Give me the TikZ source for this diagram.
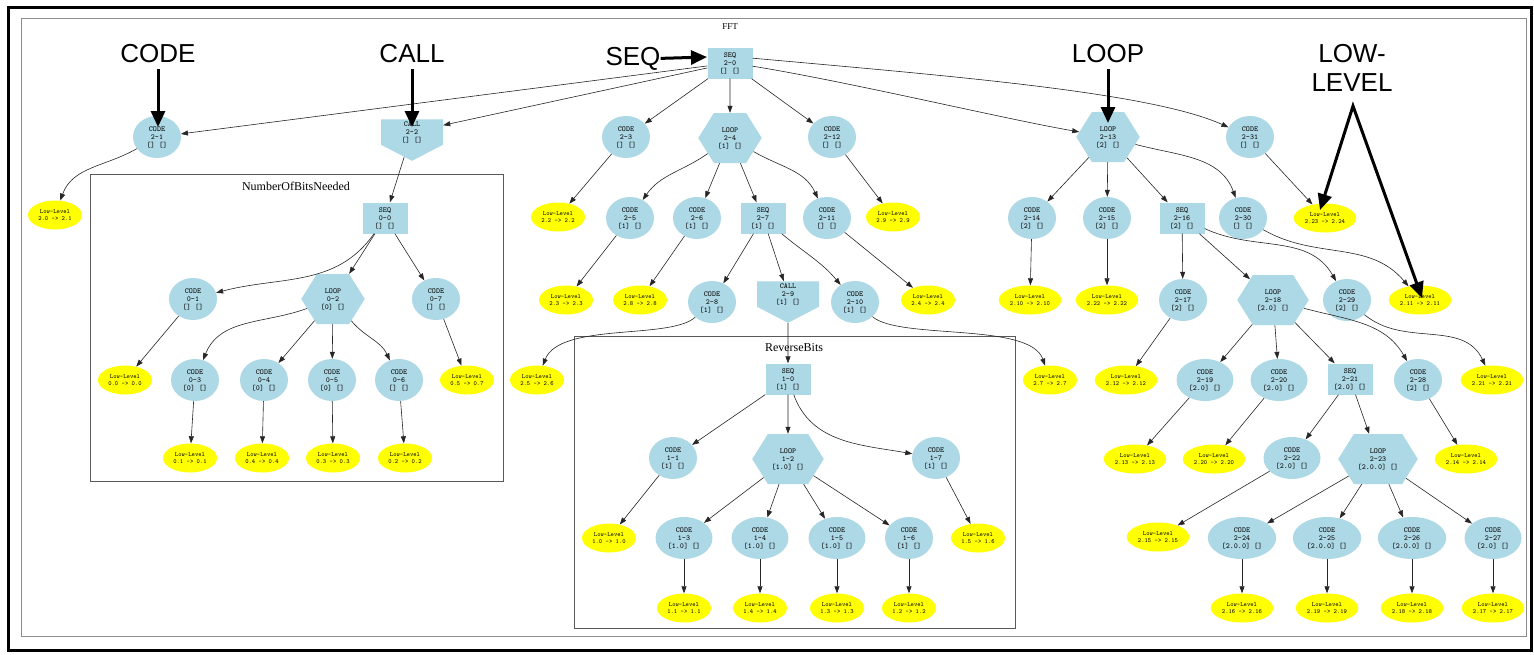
\documentclass[tikz,border=0pt]{standalone}
\usepackage{fontspec}
\setmainfont{Liberation Serif}
\newfontfamily\annfont{Liberation Sans}
\usetikzlibrary{arrows.meta,shapes.geometric,shapes.symbols,calc}
\definecolor{lb}{HTML}{ADD8E6}
\definecolor{yl}{HTML}{FFFF00}
\newcommand{\ntxt}[3]{#1\\#2\\{}#3}
\newcommand{\ltxt}[1]{Low-Level\\{}#1}
\tikzset{
 gfont/.style={font=\fontsize{7.6}{8}\ttfamily},
 codenode/.style={ellipse, fill=lb, inner sep=4pt, minimum width=48pt, minimum height=42pt, align=center, gfont},
 seqnode/.style={rectangle, fill=lb, inner sep=2pt, minimum width=45pt, minimum height=31pt, align=center, gfont},
 loopnode/.style={signal, signal to=east and west, signal pointer angle=116, fill=lb, inner xsep=4pt, inner ysep=2pt, minimum height=50pt, align=center, gfont},
 callnode/.style={signal, signal to=south, signal from=nowhere, signal pointer angle=125, fill=lb, inner sep=2pt, minimum width=62pt, minimum height=31pt, align=center, gfont},
 lownode/.style={ellipse, fill=yl, inner sep=2pt, minimum width=54pt, minimum height=29pt, align=center, font=\fontsize{6.3}{6.7}\ttfamily},
 gedge/.style={-{Triangle[length=7pt,width=5pt]}, line width=0.6pt, draw=black!85},
 annarrow/.style={-{Triangle[length=16pt,width=14pt]}, line width=3pt},
 ann/.style={font=\fontsize{26}{29.5}\annfont, inner sep=0pt, outer ysep=7pt, align=center},
 cluster/.style={draw=black!65, line width=0.8pt},
 fffframe/.style={draw=black!45, line width=1pt},
 ctitle/.style={font=\fontsize{12}{13}\selectfont, inner sep=0pt},
}
\begin{document}
\begin{tikzpicture}[x=1pt,y=-1pt]
\useasboundingbox (0,0) rectangle (1534,654);
\fill[white] (0,0) rectangle (1534,654);
\draw[line width=3pt] (8,7.5) rectangle (1531.5,650.5);
\draw[fffframe] (21,18) rectangle (1526,636);
\node[ctitle, font=\fontsize{9}{10}\selectfont] (tfft) at (730,27) {FFT};
\draw[cluster] (90,174) rectangle (503,481);
\node[ctitle] (tnob) at (296,186) {NumberOfBitsNeeded};
\draw[cluster] (574,336) rectangle (1015,628);
\node[ctitle] (trev) at (794,348) {ReverseBits};

% ---- FFT level 1
\node[seqnode] (a0) at (730,63) {\ntxt{SEQ}{2-0}{[] []}};
\node[codenode] (a1) at (157,137) {\ntxt{CODE}{2-1}{[] []}};
\node[callnode] (a2) at (412,132) {\ntxt{CALL}{2-2}{[] []}};
\node[codenode] (a3) at (626,137) {\ntxt{CODE}{2-3}{[] []}};
\node[loopnode] (a4) at (730,138) {\ntxt{LOOP}{2-4}{[1] []}};
\node[codenode] (a12) at (832,137) {\ntxt{CODE}{2-12}{[] []}};
\node[loopnode] (a13) at (1108,137) {\ntxt{LOOP}{2-13}{[2] []}};
\node[codenode] (a31) at (1250,137) {\ntxt{CODE}{2-31}{[] []}};
% ---- row 2
\node[lownode] (ya1) at (55,215) {\ltxt{2.0 -> 2.1}};
\node[seqnode] (b0) at (385,218) {\ntxt{SEQ}{0-0}{[] []}};
\node[lownode] (ya3) at (558,217) {\ltxt{2.2 -> 2.2}};
\node[codenode] (a5) at (630,218) {\ntxt{CODE}{2-5}{[1] []}};
\node[codenode] (a6) at (697,218) {\ntxt{CODE}{2-6}{[1] []}};
\node[seqnode] (a7) at (763,218) {\ntxt{SEQ}{2-7}{[1] []}};
\node[codenode] (a11) at (827,218) {\ntxt{CODE}{2-11}{[] []}};
\node[lownode] (ya12) at (893,217) {\ltxt{2.9 -> 2.9}};
\node[codenode] (a14) at (1032,218) {\ntxt{CODE}{2-14}{[2] []}};
\node[codenode] (a15) at (1107,218) {\ntxt{CODE}{2-15}{[2] []}};
\node[seqnode] (a16) at (1182,218) {\ntxt{SEQ}{2-16}{[2] []}};
\node[codenode] (a30) at (1243,218) {\ntxt{CODE}{2-30}{[] []}};
\node[lownode] (ya31) at (1325,218) {\ltxt{2.23 -> 2.24}};
% ---- row 3
\node[codenode] (b1) at (193,299) {\ntxt{CODE}{0-1}{[] []}};
\node[loopnode] (b2) at (333,299) {\ntxt{LOOP}{0-2}{[0] []}};
\node[codenode] (b7) at (436,299) {\ntxt{CODE}{0-7}{[] []}};
\node[lownode] (ya5) at (566,300) {\ltxt{2.3 -> 2.3}};
\node[lownode] (ya6) at (640,300) {\ltxt{2.8 -> 2.8}};
\node[codenode] (a8) at (712,302) {\ntxt{CODE}{2-8}{[1] []}};
\node[callnode] (a9) at (788,294) {\ntxt{CALL}{2-9}{[1] []}};
\node[codenode] (a10) at (855,302) {\ntxt{CODE}{2-10}{[1] []}};
\node[lownode] (ya11) at (928,300) {\ltxt{2.4 -> 2.4}};
\node[lownode] (ya14) at (1030,300) {\ltxt{2.10 -> 2.10}};
\node[lownode] (ya15) at (1107,300) {\ltxt{2.22 -> 2.22}};
\node[codenode] (a17) at (1183,300) {\ntxt{CODE}{2-17}{[2] []}};
\node[loopnode] (a18) at (1273,300) {\ntxt{LOOP}{2-18}{[2.0] []}};
\node[codenode] (a29) at (1347,300) {\ntxt{CODE}{2-29}{[2] []}};
\node[lownode] (ya30) at (1420,300) {\ltxt{2.11 -> 2.11}};
% ---- row 4
\node[lownode] (yb1) at (125,380) {\ltxt{0.0 -> 0.0}};
\node[codenode] (b3) at (195,380) {\ntxt{CODE}{0-3}{[0] []}};
\node[codenode] (b4) at (264,380) {\ntxt{CODE}{0-4}{[0] []}};
\node[codenode] (b5) at (332,380) {\ntxt{CODE}{0-5}{[0] []}};
\node[codenode] (b6) at (399,380) {\ntxt{CODE}{0-6}{[] []}};
\node[lownode] (yb7) at (467,380) {\ltxt{0.5 -> 0.7}};
\node[lownode] (ya8) at (537,380) {\ltxt{2.5 -> 2.6}};
\node[seqnode] (r0) at (788,379) {\ntxt{SEQ}{1-0}{[1] []}};
\node[lownode] (ya10) at (1050,380) {\ltxt{2.7 -> 2.7}};
\node[lownode] (ya17) at (1126,380) {\ltxt{2.12 -> 2.12}};
\node[codenode] (a19) at (1205,380) {\ntxt{CODE}{2-19}{[2.0] []}};
\node[codenode] (a20) at (1279,380) {\ntxt{CODE}{2-20}{[2.0] []}};
\node[seqnode] (a21) at (1350,379) {\ntxt{SEQ}{2-21}{[2.0] []}};
\node[codenode] (a28) at (1418,380) {\ntxt{CODE}{2-28}{[2] []}};
\node[lownode] (ya29) at (1492,380) {\ltxt{2.21 -> 2.21}};
% ---- row 5
\node[lownode] (yb3) at (190,458) {\ltxt{0.1 -> 0.1}};
\node[lownode] (yb4) at (262,458) {\ltxt{0.4 -> 0.4}};
\node[lownode] (yb5) at (333,458) {\ltxt{0.3 -> 0.3}};
\node[lownode] (yb6) at (405,458) {\ltxt{0.2 -> 0.2}};
\node[codenode] (r1) at (673,458) {\ntxt{CODE}{1-1}{[1] []}};
\node[loopnode] (r2) at (788,459) {\ntxt{LOOP}{1-2}{[1.0] []}};
\node[codenode] (r7) at (936,458) {\ntxt{CODE}{1-7}{[1] []}};
\node[lownode] (ya19) at (1135,459) {\ltxt{2.13 -> 2.13}};
\node[lownode] (ya20) at (1214,459) {\ltxt{2.20 -> 2.20}};
\node[codenode] (a22) at (1292,458) {\ntxt{CODE}{2-22}{[2.0] []}};
\node[loopnode] (a23) at (1378,459) {\ntxt{LOOP}{2-23}{[2.0.0] []}};
\node[lownode] (ya28) at (1466,459) {\ltxt{2.14 -> 2.14}};
% ---- row 6
\node[lownode] (yr1) at (609,538) {\ltxt{1.0 -> 1.0}};
\node[codenode] (r3) at (684,538) {\ntxt{CODE}{1-3}{[1.0] []}};
\node[codenode] (r4) at (760,538) {\ntxt{CODE}{1-4}{[1.0] []}};
\node[codenode] (r5) at (837,538) {\ntxt{CODE}{1-5}{[1.0] []}};
\node[codenode] (r6) at (909,538) {\ntxt{CODE}{1-6}{[1] []}};
\node[lownode] (yr7) at (978,538) {\ltxt{1.5 -> 1.6}};
\node[lownode] (ya22) at (1158,537) {\ltxt{2.15 -> 2.15}};
\node[codenode] (a24) at (1242,538) {\ntxt{CODE}{2-24}{[2.0.0] []}};
\node[codenode] (a25) at (1327,538) {\ntxt{CODE}{2-25}{[2.0.0] []}};
\node[codenode] (a26) at (1412,538) {\ntxt{CODE}{2-26}{[2.0.0] []}};
\node[codenode] (a27) at (1493,538) {\ntxt{CODE}{2-27}{[2.0] []}};
% ---- row 7
\node[lownode] (yr3) at (684,608) {\ltxt{1.1 -> 1.1}};
\node[lownode] (yr4) at (760,608) {\ltxt{1.4 -> 1.4}};
\node[lownode] (yr5) at (837,608) {\ltxt{1.3 -> 1.3}};
\node[lownode] (yr6) at (909,608) {\ltxt{1.2 -> 1.2}};
\node[lownode] (ya24) at (1242,608) {\ltxt{2.16 -> 2.16}};
\node[lownode] (ya25) at (1327,608) {\ltxt{2.19 -> 2.19}};
\node[lownode] (ya26) at (1412,608) {\ltxt{2.18 -> 2.18}};
\node[lownode] (ya27) at (1493,608) {\ltxt{2.17 -> 2.17}};

% ---- edges
\draw[gedge] (a0) -- (a1);
\draw[gedge] (a0) -- (a2);
\draw[gedge] (a0) -- (a3);
\draw[gedge] (a0) -- (a4);
\draw[gedge] (a0) -- (a12);
\draw[gedge] (a0.-8) .. controls (850,82) and (1000,118) .. (a13);
\draw[gedge] (a0.12) .. controls (950,76) and (1150,92) .. (a31);
\draw[gedge] (a1) to[out=210,in=70] (ya1);
\draw[gedge] (a2) -- (b0);
\draw[gedge] (b0) to[out=235,in=15] (b1);
\draw[gedge] (b0) -- (b2);
\draw[gedge] (b0) -- (b7);
\draw[gedge] (b1) -- (yb1);
\draw[gedge] (b2) to[out=200,in=68] (b3);
\draw[gedge] (b2) -- (b4);
\draw[gedge] (b2) -- (b5);
\draw[gedge] (b2) to[out=-50,in=115] (b6);
\draw[gedge] (b7) -- (yb7);
\draw[gedge] (b3) -- (yb3);
\draw[gedge] (b4) -- (yb4);
\draw[gedge] (b5) -- (yb5);
\draw[gedge] (b6) -- (yb6);
\draw[gedge] (a3) -- (ya3);
\draw[gedge] (a4) to[out=215,in=55] (a5);
\draw[gedge] (a4) -- (a6);
\draw[gedge] (a4) -- (a7);
\draw[gedge] (a4) to[out=-30,in=115] (a11);
\draw[gedge] (a12) -- (ya12);
\draw[gedge] (a5) -- (ya5);
\draw[gedge] (a6) -- (ya6);
\draw[gedge] (a7) -- (a8);
\draw[gedge] (a7) -- (a9);
\draw[gedge] (a7) to[out=-40,in=130] (a10);
\draw[gedge] (a11) -- (ya11);
\draw[gedge] (a8) .. controls (670,340) and (560,322) .. (ya8);
\draw[gedge] (a10) .. controls (900,340) and (1030,322) .. (ya10);
\draw[gedge] (a9) -- (r0);
\draw[gedge] (r0) -- (r1);
\draw[gedge] (r0) -- (r2);
\draw[gedge] (r0) to[out=-70,in=170] (r7);
\draw[gedge] (r1) -- (yr1);
\draw[gedge] (r2) -- (r3);
\draw[gedge] (r2) -- (r4);
\draw[gedge] (r2) -- (r5);
\draw[gedge] (r2) -- (r6);
\draw[gedge] (r7) -- (yr7);
\draw[gedge] (r3) -- (yr3);
\draw[gedge] (r4) -- (yr4);
\draw[gedge] (r5) -- (yr5);
\draw[gedge] (r6) -- (yr6);
\draw[gedge] (a13) -- (a14);
\draw[gedge] (a13) -- (a15);
\draw[gedge] (a13) -- (a16);
\draw[gedge] (a13) to[out=-15,in=110] (a30);
\draw[gedge] (a31) -- (ya31);
\draw[gedge] (a14) -- (ya14);
\draw[gedge] (a15) -- (ya15);
\draw[gedge] (a16) -- (a17);
\draw[gedge] (a16) -- (a18);
\draw[gedge] (a16) to[out=-25,in=120] (a29);
\draw[gedge] (a30) to[out=-30,in=130] (ya30);
\draw[gedge] (a17) -- (ya17);
\draw[gedge] (a18) -- (a19);
\draw[gedge] (a18) -- (a20);
\draw[gedge] (a18) -- (a21);
\draw[gedge] (a18) to[out=-15,in=120] (a28);
\draw[gedge] (a29) to[out=-40,in=115] (ya29);
\draw[gedge] (a19) -- (ya19);
\draw[gedge] (a20) -- (ya20);
\draw[gedge] (a28) -- (ya28);
\draw[gedge] (a21) -- (a22);
\draw[gedge] (a21) -- (a23);
\draw[gedge] (a22) -- (ya22);
\draw[gedge] (a23) -- (a24);
\draw[gedge] (a23) -- (a25);
\draw[gedge] (a23) -- (a26);
\draw[gedge] (a23) -- (a27);
\draw[gedge] (a24) -- (ya24);
\draw[gedge] (a25) -- (ya25);
\draw[gedge] (a26) -- (ya26);
\draw[gedge] (a27) -- (ya27);

% ---- annotations
\node[ann, anchor=base] (tcode) at (158,62) {CODE};
\node[ann, anchor=base] (tcall) at (412,62) {CALL};
\node[ann, anchor=base] (tseq) at (633,65) {SEQ};
\node[ann, anchor=base] (tloop) at (1108,62) {LOOP};
\node[ann] (tlow) at (1352,68) {LOW-\\LEVEL};
\coordinate (pcode) at (158,127);
\coordinate (pcall) at (412,127);
\coordinate (pseq) at (707,57);
\coordinate (ploop) at (1108,123);
\coordinate (papex) at (1353,106);
\coordinate (plow1) at (1320,210);
\coordinate (plow2) at (1422,298);
\draw[annarrow] (tcode.south) -- (pcode);
\draw[annarrow] (tcall.south) -- (pcall);
\draw[annarrow] (tseq.east) -- (pseq);
\draw[annarrow] (tloop.south) -- (ploop);
\draw[line width=3pt, line join=miter, {Triangle[length=16pt,width=14pt]}-{Triangle[length=16pt,width=14pt]}] (plow1) -- (papex) -- (plow2);
\end{tikzpicture}
\end{document}
